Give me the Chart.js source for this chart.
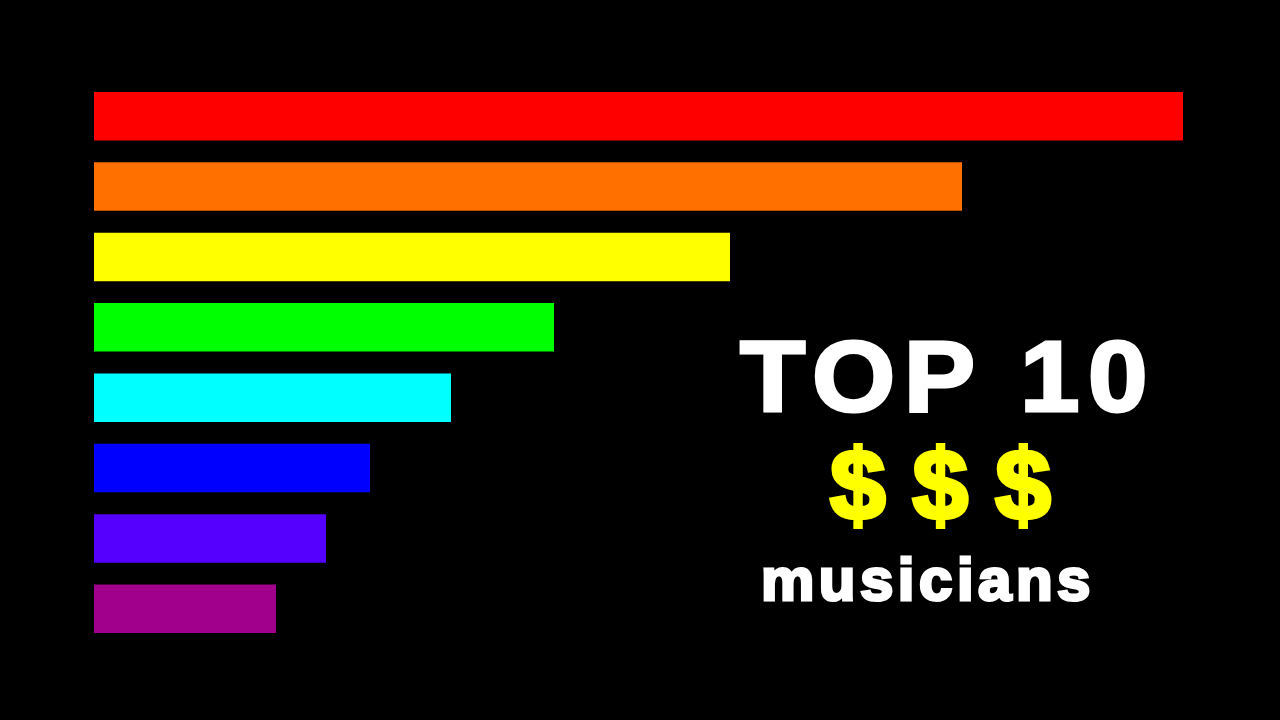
<!DOCTYPE html>
<html>
<head>
<meta charset="utf-8">
<script src="https://cdn.jsdelivr.net/npm/chart.js@4"></script>
<style>
  html, body { margin: 0; padding: 0; background: #000; width: 1280px; height: 720px; overflow: hidden; }
  #wrap { position: relative; width: 1280px; height: 720px; }
  canvas { position: absolute; left: 0; top: 0; }
  .t { position: absolute; font-family: "Liberation Sans", Arial, sans-serif; font-weight: bold; line-height: 1; white-space: nowrap; transform-origin: 0 0; }
  #t1 { left: 740px; top: 326px; font-size: 101px; color: #fff; -webkit-text-stroke: 3px #fff; letter-spacing: 8px; transform: scaleX(1.06); }
  #t2 { left: 830px; top: 435px; font-size: 100px; color: #ffff00; -webkit-text-stroke: 4px #ffff00; letter-spacing: 27px; }
  #t3 { left: 761px; top: 550px; font-size: 60px; color: #fff; -webkit-text-stroke: 3px #fff; letter-spacing: 4.5px; }
</style>
</head>
<body>
<div id="wrap">
  <canvas id="c" width="1280" height="720"></canvas>
  <div class="t" id="t1">TOP 10</div>
  <div class="t" id="t2">$$$</div>
  <div class="t" id="t3">musicians</div>
</div>
<script>
const categories = ["1", "2", "3", "4", "5", "6", "7", "8"];
const values = [1089, 868, 636, 460, 357, 276, 232, 182];
const colors = ["#ff0000", "#ff7000", "#ffff00", "#00ff00", "#00ffff", "#0000ff", "#5500ff", "#a0008c"];

new Chart(document.getElementById("c"), {
  type: "bar",
  data: {
    labels: categories,
    datasets: [{
      data: values,
      backgroundColor: colors,
      borderWidth: 0,
      barPercentage: 0.69,
      categoryPercentage: 1
    }]
  },
  options: {
    indexAxis: "y",
    responsive: false,
    animation: false,
    layout: { padding: { left: 94, right: 86, top: 81, bottom: 76 } },
    plugins: { legend: { display: false }, tooltip: { enabled: false }, title: { display: false } },
    scales: {
      x: { display: false, min: 0, max: 1100 },
      y: { display: false }
    }
  }
});
</script>
</body>
</html>
